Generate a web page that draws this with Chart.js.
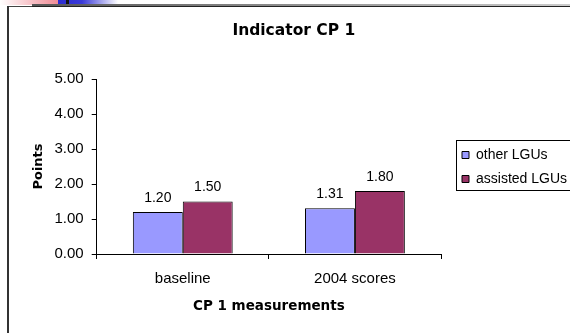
<!DOCTYPE html>
<html><head><meta charset="utf-8">
<script src="https://cdn.jsdelivr.net/npm/chart.js@4/dist/chart.umd.min.js"></script>
<style>html,body{margin:0;padding:0;background:#fff;overflow:hidden}#wrap{position:relative;width:570px;height:333px}</style>
</head><body><div id="wrap"><canvas id="c" width="570" height="333"></canvas></div>
<script>
const categories = ['baseline', '2004 scores'];
const seriesNames = ['other LGUs', 'assisted LGUs'];
const otherLGUs = [1.20, 1.31];
const assistedLGUs = [1.50, 1.80];
const yTicks = [0, 1, 2, 3, 4, 5];
const chartTitle = 'Indicator CP 1';
const xTitle = 'CP 1 measurements';
const yTitle = 'Points';

const FONT = '"Liberation Sans", Arial, sans-serif';
const BFONT = '"DejaVu Sans", sans-serif';
Chart.defaults.font.family = FONT;
Chart.defaults.color = '#000';

const decoPlugin = {
  id: 'deco',
  beforeDraw(chart) {
    const ctx = chart.ctx;
    ctx.save();
    ctx.fillStyle = '#fff';
    ctx.fillRect(0, 0, chart.width, chart.height);
    let g = ctx.createLinearGradient(0, 0, 58, 0);
    g.addColorStop(0, 'rgba(255,255,255,1)');
    g.addColorStop(1, 'rgba(240,140,150,1)');
    ctx.fillStyle = g; ctx.fillRect(0, 0, 58, 5);
    g = ctx.createLinearGradient(58, 0, 118, 0);
    g.addColorStop(0, '#2b2bd0');
    g.addColorStop(0.4, '#3a3ad8');
    g.addColorStop(1, 'rgba(255,255,255,1)');
    ctx.fillStyle = g; ctx.fillRect(58, 0, 60, 5);
    ctx.fillStyle = '#111'; ctx.fillRect(66, 0, 3, 5);
    g = ctx.createLinearGradient(32, 0, chart.width, 0);
    g.addColorStop(0, '#555'); g.addColorStop(1, '#ccc');
    ctx.fillStyle = g; ctx.fillRect(32, 4, chart.width - 32, 2);
    ctx.fillStyle = '#222'; ctx.fillRect(32, 6, chart.width - 32, 1);
    ctx.fillStyle = '#444'; ctx.fillRect(8, 6, 24, 1);
    ctx.fillStyle = '#333'; ctx.fillRect(7, 6, 2, chart.height - 6);
    ctx.restore();
  }
};

const legendPlugin = {
  id: 'legendFix',
  beforeLayout(chart) {
    const lg = chart.legend;
    if (lg && !lg._fixedFit) {
      const proto = Object.getPrototypeOf(lg);
      lg.fit = function () { proto.fit.call(this); this.width = 129; };
      lg._fixedFit = true;
    }
  },
  afterLayout(chart) {
    const lg = chart.legend;
    const a = chart.chartArea;
    const w = lg.width, h = lg.height;
    lg.left = a.right + 11; lg.right = lg.left + w;
    lg.top = a.top + 59; lg.bottom = lg.top + h;
  },
  afterDraw(chart) {
    const a = chart.chartArea;
    const ctx = chart.ctx;
    ctx.save();
    ctx.strokeStyle = '#000'; ctx.lineWidth = 1;
    ctx.strokeRect(Math.round(a.right + 15) + 0.5, Math.round(a.top + 61) + 0.5, 200, 50);
    ctx.restore();
  }
};

const valuePlugin = {
  id: 'values',
  afterDatasetsDraw(chart) {
    const ctx = chart.ctx;
    ctx.save();
    ctx.font = '14px ' + FONT;
    ctx.fillStyle = '#000';
    ctx.textAlign = 'center';
    ctx.textBaseline = 'alphabetic';
    chart.data.datasets.forEach((ds, i) => {
      chart.getDatasetMeta(i).data.forEach((bar, j) => {
        ctx.fillText(Number(ds.data[j]).toFixed(2), bar.x, bar.y - 10.5);
      });
    });
    ctx.restore();
  }
};

new Chart(document.getElementById('c'), {
  type: 'bar',
  data: {
    labels: categories,
    datasets: [
      { label: seriesNames[0], data: otherLGUs, backgroundColor: '#9999FF', borderColor: '#000', borderWidth: 1 },
      { label: seriesNames[1], data: assistedLGUs, backgroundColor: '#993366', borderColor: '#000', borderWidth: 1 }
    ]
  },
  options: {
    responsive: false,
    animation: false,
    devicePixelRatio: 1,
    layout: { padding: { top: 0, left: 17.7, right: 0, bottom: 18.8 } },
    datasets: { bar: { barPercentage: 1, categoryPercentage: 0.58 } },
    plugins: {
      title: { display: true, text: chartTitle, color: '#000', font: { family: BFONT, size: 15.5, weight: 'bold' }, padding: { top: 21.7, bottom: 38.7 } },
      legend: {
        display: true, position: 'right', align: 'start', fullSize: false,
        labels: { font: { size: 14 }, color: '#000', boxWidth: 7, boxHeight: 7, padding: 10 }
      },
      tooltip: { enabled: false }
    },
    scales: {
      x: {
        grid: { drawOnChartArea: false, drawTicks: true, tickLength: 5, color: '#000', offset: true },
        border: { color: '#000' },
        ticks: { font: { size: 15 }, padding: 11, color: '#000' },
        title: { display: true, text: xTitle, color: '#000', font: { family: BFONT, size: 13.5, weight: 'bold' }, padding: { top: -1, bottom: 0 } }
      },
      y: {
        min: 0, max: 5,
        afterBuildTicks: s => { s.ticks = yTicks.map(v => ({ value: v })); },
        grid: { drawOnChartArea: false, drawTicks: true, tickLength: 5, color: '#000' },
        border: { color: '#000' },
        ticks: { font: { size: 15 }, padding: 8, color: '#000', callback: v => Number(v).toFixed(2) },
        title: { display: true, text: yTitle, color: '#000', font: { family: BFONT, size: 13, weight: 'bold' }, padding: { top: 13.2, bottom: 0 } }
      }
    }
  },
  plugins: [decoPlugin, legendPlugin, valuePlugin]
});
</script></body></html>
